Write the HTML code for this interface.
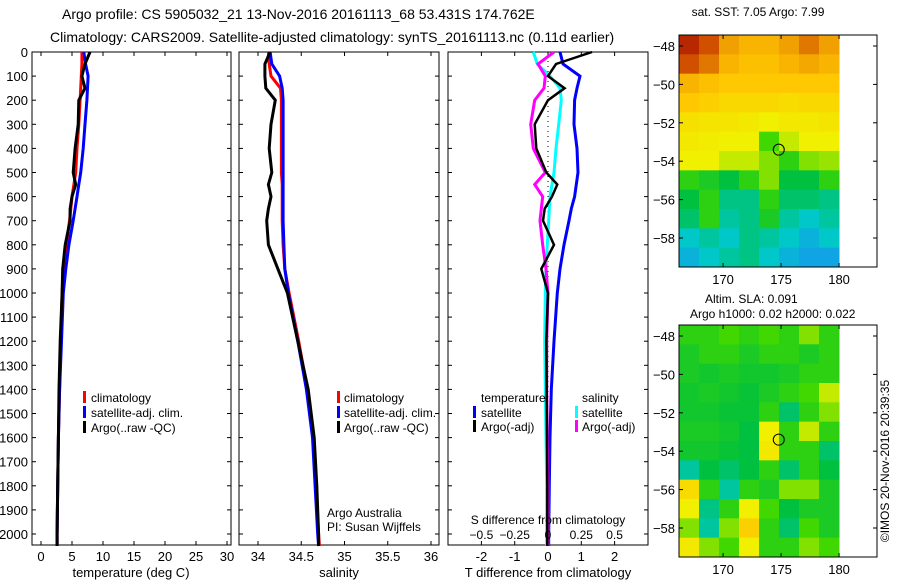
<!DOCTYPE html>
<html><head><meta charset="utf-8"><style>
body{margin:0;background:#fff;}
svg text{font-family:"Liberation Sans",sans-serif;fill:#000;}
</style></head><body>
<svg id="chart" width="900" height="580" xmlns="http://www.w3.org/2000/svg"></svg>
<script>
// ---------- DATA ----------
const depths = [0,50,100,150,200,300,400,500,550,600,650,700,800,900,1000,1200,1400,1600,1800,2000,2050];
const tempClim = [6.6,6.6,6.5,6.4,6.3,6.1,5.8,5.6,5.3,5.0,4.8,4.6,4.1,3.6,3.4,3.2,3.0,2.8,2.7,2.6,2.6];
const tempSat  = [6.9,7.2,7.6,7.5,7.4,7.1,6.8,6.4,6.1,5.8,5.5,5.2,4.5,4.0,3.6,3.3,3.0,2.8,2.7,2.6,2.6];
const tempArgo = [7.9,7.1,6.6,7.1,6.1,6.0,5.5,5.2,5.6,5.0,4.7,4.7,3.9,3.5,3.4,3.1,2.9,2.8,2.7,2.6,2.6];
const salClim = [34.12,34.13,34.15,34.26,34.27,34.27,34.27,34.27,34.28,34.28,34.28,34.28,34.29,34.31,34.36,34.47,34.57,34.64,34.67,34.70,34.71];
const salSat  = [34.14,34.16,34.25,34.28,34.29,34.29,34.29,34.29,34.29,34.29,34.29,34.29,34.30,34.31,34.35,34.46,34.56,34.63,34.66,34.69,34.70];
const salArgo = [34.14,34.08,34.08,34.09,34.20,34.15,34.13,34.16,34.12,34.15,34.12,34.10,34.12,34.23,34.34,34.46,34.58,34.65,34.68,34.70,34.70];
const dTSat  = [0.36,0.45,0.96,0.87,0.80,0.78,0.87,0.90,0.85,0.80,0.70,0.63,0.48,0.36,0.28,0.18,0.10,0.06,0.04,0.02,0.02];
const dTArgo = [1.32,0.24,0.0,0.50,0.0,-0.40,-0.35,-0.05,0.28,0.12,-0.10,-0.15,0.18,-0.20,0.0,-0.05,-0.04,-0.03,-0.02,-0.02,-0.02];
const dSSat  = [-0.11,-0.08,0.015,0.09,0.10,0.08,0.06,0.045,0.03,0.015,0.01,0.005,-0.005,-0.015,-0.02,-0.025,-0.02,-0.015,-0.01,-0.01,-0.01];
const dSArgo = [0.045,-0.075,-0.02,-0.03,-0.10,-0.13,-0.11,-0.02,-0.10,-0.04,-0.05,-0.06,-0.04,-0.015,0.0,-0.01,-0.01,-0.005,0.0,0.0,0.0];
const depthTicks = [0,100,200,300,400,500,600,700,800,900,1000,1100,1200,1300,1400,1500,1600,1700,1800,1900,2000];
const tempTicks = [0,5,10,15,20,25,30];
const salTicks = [34,34.5,35,35.5,36];
const dTTicks = [-2,-1,0,1,2];
const dSTicks = [-0.5,-0.25,0,0.25,0.5];
const lonTicks = [170,175,180];
const latTicks = [-48,-50,-52,-54,-56,-58];
const floatLon = 174.8, floatLat = -53.4;
const sstGrid = [
[.95,.9,.8,.75,.75,.8,.85,.8],[.9,.85,.75,.72,.72,.75,.78,.75],[.75,.72,.7,.7,.7,.7,.7,.7],
[.7,.68,.66,.66,.66,.65,.66,.66],[.64,.63,.63,.62,.6,.62,.62,.63],[.62,.61,.6,.6,.52,.58,.6,.6],
[.6,.6,.58,.58,.55,.5,.55,.56],[.5,.48,.45,.5,.55,.45,.45,.5],[.45,.5,.4,.4,.5,.42,.42,.4],
[.42,.5,.38,.4,.48,.38,.35,.38],[.35,.38,.35,.4,.38,.35,.32,.35],[.32,.35,.38,.4,.35,.32,.3,.3]];
const slaGrid = [
[.5,.5,.52,.5,.52,.5,.55,.5],[.48,.5,.5,.48,.5,.5,.48,.5],[.48,.47,.48,.47,.47,.48,.5,.5],
[.47,.48,.47,.46,.48,.5,.52,.58],[.47,.47,.46,.46,.5,.42,.5,.55],[.48,.48,.47,.45,.6,.5,.58,.5],
[.47,.47,.46,.45,.62,.5,.5,.42],[.38,.45,.42,.45,.5,.42,.5,.45],[.65,.5,.38,.5,.48,.55,.55,.48],
[.6,.4,.5,.6,.52,.45,.48,.48],[.55,.38,.55,.68,.5,.42,.52,.48],[.62,.55,.52,.6,.5,.5,.55,.52]];

// ---------- HELPERS ----------
const svg=document.getElementById('chart');const NS='http://www.w3.org/2000/svg';
function el(tag,at,parent){const e=document.createElementNS(NS,tag);for(const k in at)e.setAttribute(k,at[k]);(parent||svg).appendChild(e);return e;}
function txt(s,x,y,at){const t=el('text',Object.assign({x:x,y:y,'font-size':13},at||{}));t.textContent=s;return t;}
const yD=d=>52+0.241*d;
const xT=v=>41+6.2*v;
const xS=v=>258+86.5*(v-34);
const xdT=v=>548+33.3*v;
const xdS=v=>548+133.2*v;
function line(xs,xf,color,w,name){
  const pts=depths.map((d,i)=>xf(xs[i]).toFixed(1)+','+yD(d).toFixed(1)).join(' ');
  const p=el('polyline',{points:pts,fill:'none',stroke:color,'stroke-width':w});
  
  
}
function frame(x0,x1,name){
  const r=el('rect',{x:x0,y:52,width:x1-x0,height:493,fill:'none',stroke:'#000','stroke-width':1});
  
  
  depthTicks.forEach(d=>{el('line',{x1:x0,x2:x0+4,y1:yD(d),y2:yD(d),stroke:'#000'});el('line',{x1:x1-4,x2:x1,y1:yD(d),y2:yD(d),stroke:'#000'});});
}
function xticks(ticks,xf,x0,fmt){ticks.forEach(v=>{const x=xf(v);el('line',{x1:x,x2:x,y1:545,y2:541,stroke:'#000'});el('line',{x1:x,x2:x,y1:52,y2:56,stroke:'#000'});
  const t=txt(fmt?fmt(v):String(v),x,561,{'text-anchor':'middle'});});}
function legendBar(x,y,color){el('rect',{x:x,y:y-11,width:3,height:12,fill:color});}

// ---------- TITLES ----------
txt('Argo profile: CS 5905032_21 13-Nov-2016 20161113_68 53.431S 174.762E',62,19,{'font-size':14});
txt('Climatology: CARS2009. Satellite-adjusted climatology: synTS_20161113.nc (0.11d earlier)',50,42,{'font-size':14});

// ---------- PANEL 1 ----------
frame(32,231,'temperature-panel');
depthTicks.forEach(d=>{const t=txt(String(d),28,yD(d)+5,{'text-anchor':'end'});});
xticks(tempTicks,xT);
txt('temperature (deg C)',131,577,{'text-anchor':'middle'});
line(tempClim,xT,'#ff0000',3,'temp-climatology-line');
line(tempSat,xT,'#0000ff',3,'temp-satellite-line');
line(tempArgo,xT,'#000000',3,'temp-argo-line');
[['climatology','#f00'],['satellite-adj. clim.','#00f'],['Argo(..raw -QC)','#000']].forEach((l,i)=>{legendBar(83,402+15*i,l[1]);txt(l[0],91,402+15*i,{'font-size':12});});

// ---------- PANEL 2 ----------
frame(239,439,'salinity-panel');
xticks(salTicks,xS);
txt('salinity',339,577,{'text-anchor':'middle'});
line(salClim,xS,'#ff0000',3,'sal-climatology-line');
line(salSat,xS,'#0000ff',3,'sal-satellite-line');
line(salArgo,xS,'#000000',3,'sal-argo-line');
[['climatology','#f00'],['satellite-adj. clim.','#00f'],['Argo(..raw -QC)','#000']].forEach((l,i)=>{legendBar(337,402+15*i,l[1]);txt(l[0],344,402+15*i,{'font-size':12});});
txt('Argo Australia',327,517,{'font-size':12});
txt('PI: Susan Wijffels',327,531,{'font-size':12});

// ---------- PANEL 3 ----------
frame(448,648,'difference-panel');
xticks(dTTicks,xdT);
el('line',{x1:548,x2:548,y1:56,y2:545,stroke:'#000','stroke-dasharray':'1,4'});
line(dTSat,xdT,'#0000ff',3,'dT-satellite-line');
line(dSSat,xdS,'#00ffff',3,'dS-satellite-line');
line(dSArgo,xdS,'#ff00ff',3,'dS-argo-line');
line(dTArgo,xdT,'#000000',2.5,'dT-argo-line');
dSTicks.forEach(v=>{const t=txt(String(v).replace('-','\u2212'),xdS(v),539,{'text-anchor':'middle','font-size':12});});
txt('S difference from climatology',548,524,{'text-anchor':'middle','font-size':12});
txt('T difference from climatology',548,577,{'text-anchor':'middle'});
txt('temperature',481,402,{'font-size':12});txt('salinity',582,402,{'font-size':12});
legendBar(473,417,'#00f');txt('satellite',481,417,{'font-size':12});
legendBar(473,431,'#000');txt('Argo(-adj)',481,431,{'font-size':12});
legendBar(575,417,'#0ff');txt('satellite',582,417,{'font-size':12});
legendBar(575,431,'#f0f');txt('Argo(-adj)',582,431,{'font-size':12});

// ---------- MAPS ----------
const stops=[[0,[0,0,160]],[0.25,[32,128,255]],[0.35,[0,200,200]],[0.45,[0,192,64]],[0.52,[64,216,0]],[0.6,[240,240,0]],[0.7,[255,200,0]],[0.8,[240,160,0]],[0.9,[208,80,0]],[1,[160,0,0]]];
function cmap(v){for(let i=1;i<stops.length;i++){if(v<=stops[i][0]){const a=stops[i-1],b=stops[i],f=(v-a[0])/(b[0]-a[0]);return 'rgb('+a[1].map((c,k)=>Math.round(c+f*(b[1][k]-c))).join(',')+')';}}return 'rgb(160,0,0)';}
const lonX=l=>679+11.6*(l-166.2);
function map(top,grid,name){
  const bottom=top+232, x0=679,x1=839,cw=(x1-x0)/8,ch=232/12;
  const g=el('g',{});
  grid.forEach((row,r)=>row.forEach((v,c)=>{el('rect',{x:x0+c*cw,y:top+r*ch,width:cw+0.5,height:ch+0.5,fill:cmap(v)},g);}));
  el('rect',{x:679,y:top,width:198,height:232,fill:'none',stroke:'#000'});
  const latY=la=>top+11+19.2*(-48-la);
  latTicks.forEach(la=>{const y=latY(la);el('line',{x1:679,x2:683,y1:y,y2:y,stroke:'#000'});el('line',{x1:873,x2:877,y1:y,y2:y,stroke:'#000'});
    const t=txt(String(la).replace('-','\u2212'),675,y+5,{'text-anchor':'end'});});
  lonTicks.forEach(lo=>{const x=lonX(lo);el('line',{x1:x,x2:x,y1:top,y2:top+4,stroke:'#000'});el('line',{x1:x,x2:x,y1:bottom,y2:bottom-4,stroke:'#000'});
    const t=txt(String(lo),x,bottom+17,{'text-anchor':'middle'});});
  const c=el('circle',{cx:lonX(floatLon),cy:latY(floatLat),r:5.5,fill:'none',stroke:'#000','stroke-width':1});
  
}
map(35,sstGrid,'sst-map');
map(325,slaGrid,'sla-map');
txt('sat. SST: 7.05 Argo: 7.99',758,16,{'text-anchor':'middle','font-size':12});
txt('Altim. SLA: 0.091',705,303,{'font-size':12});
txt('Argo h1000: 0.02 h2000: 0.022',690,318,{'font-size':12});
txt('\u00a9IMOS 20-Nov-2016 20:39:35',0,0,{'font-size':12,'text-anchor':'middle',transform:'translate(889,461) rotate(-90)'});
</script>
</body></html>
